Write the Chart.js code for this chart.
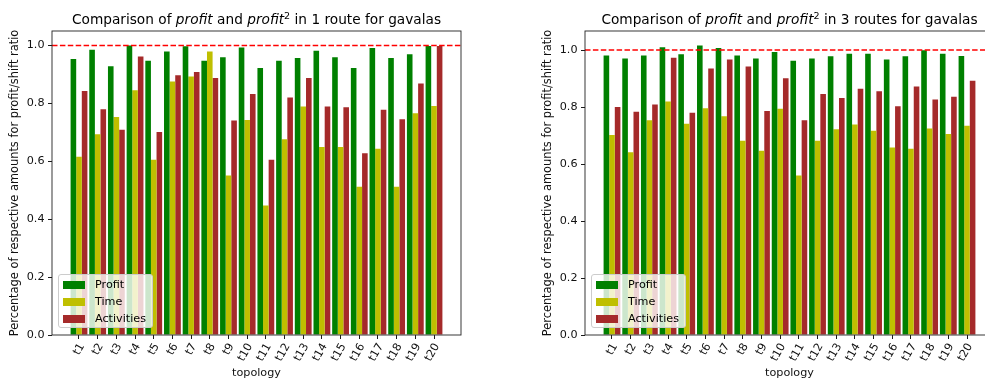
<!DOCTYPE html>
<html>
<head>
<meta charset="utf-8">
<script src="https://cdn.jsdelivr.net/npm/chart.js@4.4.1/dist/chart.umd.min.js"></script>
<style>
  html, body { margin: 0; padding: 0; background: #fff; overflow: hidden; }
  body { width: 985px; height: 385px; position: relative; font-family: "DejaVu Sans", sans-serif; }
  .panel { position: absolute; top: 0; width: 492px; height: 385px; }
  .panel canvas { position: absolute; left: 0; top: 0; }
  .title { position: absolute; top: 11px; left: 52px; width: 409px; text-align: center;
           font-size: 13.7px; line-height: 16px; color: #000; white-space: nowrap; }
  .title sup { font-size: 70%; vertical-align: 0; position: relative; top: -0.5em; }
  .legend { position: absolute; left: 58px; top: 274px; width: 93px; height: 52px;
            border: 1px solid #cccccc; border-radius: 3px; background: rgba(255,255,255,0.8);
            box-sizing: content-box; font-size: 11.2px; color: #000; }
  .legend .row { position: absolute; left: 4px; height: 17px; display: flex; align-items: center; }
  .legend .patch { width: 22px; height: 8px; margin-right: 10px; }
</style>
</head>
<body>
<div class="panel" id="p1" style="left:0px">
  <canvas id="c1" width="492" height="385"></canvas>
  <div class="title">Comparison of <i>profit</i> and <i>profit</i><sup>2</sup> in 1 route for gavalas</div>
  <div class="legend" id="l1"></div>
</div>
<div class="panel" id="p2" style="left:533px">
  <canvas id="c2" width="492" height="385"></canvas>
  <div class="title">Comparison of <i>profit</i> and <i>profit</i><sup>2</sup> in 3 routes for gavalas</div>
  <div class="legend" id="l2"></div>
</div>
<script>
const topologies = ['t1', 't2', 't3', 't4', 't5', 't6', 't7', 't8', 't9', 't10',
                    't11', 't12', 't13', 't14', 't15', 't16', 't17', 't18', 't19', 't20'];
const seriesNames = ['Profit', 'Time', 'Activities'];
const seriesColors = ['#008000', '#bfbf00', '#a52a2a'];

// 1 route
const profit1 = [0.953, 0.985, 0.928, 1.000, 0.947, 0.979, 0.997, 0.947, 0.959, 0.993,
                 0.922, 0.947, 0.957, 0.982, 0.959, 0.922, 0.991, 0.957, 0.970, 0.998];
const time1 = [0.616, 0.693, 0.753, 0.845, 0.605, 0.876, 0.893, 0.979, 0.551, 0.743,
               0.447, 0.676, 0.789, 0.649, 0.649, 0.512, 0.643, 0.512, 0.766, 0.791];
const activities1 = [0.843, 0.780, 0.709, 0.962, 0.701, 0.897, 0.908, 0.888, 0.741, 0.832,
                     0.605, 0.820, 0.888, 0.789, 0.787, 0.628, 0.778, 0.745, 0.869, 0.998];

// 3 routes
const profit3 = [0.981, 0.970, 0.981, 1.010, 0.985, 1.016, 1.007, 0.981, 0.970, 0.993,
                 0.962, 0.970, 0.978, 0.987, 0.987, 0.967, 0.978, 0.999, 0.987, 0.979];
const time3 = [0.702, 0.641, 0.754, 0.819, 0.741, 0.796, 0.768, 0.682, 0.647, 0.794,
               0.560, 0.682, 0.722, 0.739, 0.717, 0.658, 0.654, 0.725, 0.705, 0.734];
const activities3 = [0.800, 0.783, 0.809, 0.973, 0.780, 0.935, 0.967, 0.942, 0.786, 0.901,
                     0.754, 0.846, 0.832, 0.864, 0.855, 0.803, 0.872, 0.826, 0.836, 0.892];

const yTicks = [0.0, 0.2, 0.4, 0.6, 0.8, 1.0];
const targetRatio = 1.0;

Chart.defaults.font.family = '"DejaVu Sans", sans-serif';
Chart.defaults.font.size = 11.2;
Chart.defaults.color = '#111';

// matplotlib-like x margins: groups span 0.9, plus 5% of the data span each side
const xPad = 0.45 + 0.05 * (topologies.length - 1 + 0.9);

// full frame + red dashed target line
const framePlugin = {
  id: 'frame',
  afterDatasetsDraw(chart) {
    const { ctx, chartArea: a, scales: { y } } = chart;
    const yy = y.getPixelForValue(targetRatio);
    ctx.save();
    ctx.strokeStyle = '#ff0000';
    ctx.lineWidth = 1.5;
    ctx.setLineDash([5.5, 2.4]);
    ctx.beginPath();
    ctx.moveTo(a.left, yy);
    ctx.lineTo(a.right, yy);
    ctx.stroke();
    ctx.setLineDash([]);
    ctx.strokeStyle = '#222';
    ctx.lineWidth = 0.9;
    ctx.strokeRect(a.left, a.top, a.right - a.left, a.bottom - a.top);
    ctx.restore();
  }
};

function buildLegend(el) {
  seriesNames.forEach((name, i) => {
    const row = document.createElement('div');
    row.className = 'row';
    row.style.top = (1 + i * 17) + 'px';
    row.innerHTML = '<span class="patch" style="background:' + seriesColors[i] + '"></span>' + name;
    el.appendChild(row);
  });
}

function makeChart(id, profit, time, activities) {
  const series = [profit, time, activities];
  const yMax = Math.max(targetRatio, ...profit, ...time, ...activities) * 1.05;
  return new Chart(document.getElementById(id), {
    type: 'bar',
    data: {
      datasets: series.map((vals, i) => ({
        label: seriesNames[i],
        data: vals.map((v, k) => ({ x: k, y: v })),
        backgroundColor: seriesColors[i],
        borderWidth: 0,
        categoryPercentage: 0.9,
        barPercentage: 1.0
      }))
    },
    options: {
      responsive: false,
      animation: false,
      layout: { padding: { top: 31, right: 31, bottom: 0, left: 0 } },
      plugins: { legend: { display: false }, tooltip: { enabled: false } },
      scales: {
        x: {
          type: 'linear',
          min: -xPad,
          max: topologies.length - 1 + xPad,
          offset: false,
          afterBuildTicks: ax => { ax.ticks = topologies.map((_, i) => ({ value: i })); },
          afterFit: ax => { ax.height = 50; },
          ticks: {
            autoSkip: false, minRotation: 60, maxRotation: 60, padding: 2, labelOffset: 3,
            callback: v => topologies[v]
          },
          grid: { offset: false, drawOnChartArea: false, drawTicks: true, tickLength: 4, color: '#000', lineWidth: 0.9 },
          border: { display: false },
          title: { display: true, text: 'topology', padding: { top: 0, bottom: 5 } }
        },
        y: {
          min: 0,
          max: yMax,
          afterBuildTicks: ax => { ax.ticks = yTicks.map(v => ({ value: v })); },
          afterFit: ax => { ax.width = 52; },
          ticks: { padding: 3.5, callback: v => v.toFixed(1) },
          grid: { drawOnChartArea: false, drawTicks: true, tickLength: 4, color: '#000', lineWidth: 0.9 },
          border: { display: false },
          title: {
            display: true,
            text: 'Percentage of respective amounts for profit/shift ratio',
            font: { size: 11.4 },
            padding: { top: 8, bottom: 0 }
          }
        }
      }
    },
    plugins: [framePlugin]
  });
}

makeChart('c1', profit1, time1, activities1);
makeChart('c2', profit3, time3, activities3);
buildLegend(document.getElementById('l1'));
buildLegend(document.getElementById('l2'));
</script>
</body>
</html>
